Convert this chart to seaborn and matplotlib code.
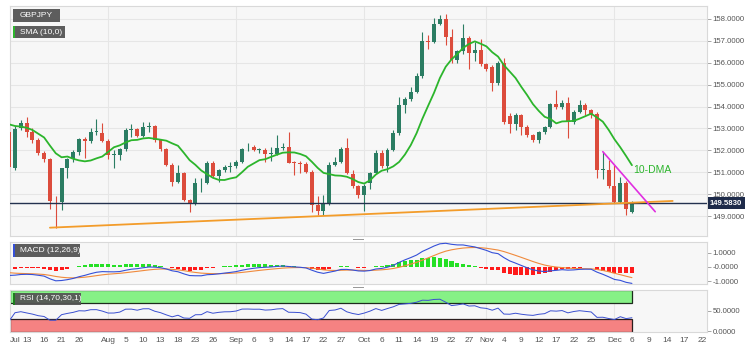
import numpy as np
import pandas as pd
import matplotlib
matplotlib.use("Agg")
import matplotlib.pyplot as plt
from matplotlib.patches import Rectangle
import seaborn as sns

# GBPJPY daily candles, 2021-07-08 .. 2021-12-06
first_day = "2021-07-08"
opens = [152.85, 151.18, 153.01, 153.27, 152.86, 152.47, 151.9, 151.59, 149.7, 149.66,
         151.18, 151.6, 151.94, 152.5, 152.43, 152.86, 152.81, 152.44, 151.79, 151.8,
         152.05, 152.93, 152.96, 152.66, 153.08, 153.11, 152.47, 152.05, 151.33, 150.57,
         150.95, 149.74, 149.58, 150.5, 150.52, 151.41, 150.83, 151.1, 151.26, 151.28,
         151.48, 152.05, 152.17, 152.02, 152.03, 151.84, 151.84, 152.09, 152.17, 151.44,
         151.42, 151.36, 151.03, 149.5, 149.25, 149.55, 151.33, 151.48, 152.1, 150.92,
         150.37, 149.96, 150.53, 150.98, 151.9, 151.29, 152.02, 152.8, 154.06, 154.36,
         154.67, 155.4, 157.0, 156.95, 157.76, 157.98, 157.19, 156.13, 156.54, 157.15,
         156.46, 156.6, 155.93, 155.82, 155.09, 156.0, 153.55, 153.2, 153.6, 153.08,
         152.7, 152.47, 152.85, 153.05, 154.1, 153.97, 154.18, 153.3, 153.77, 154.07,
         153.84, 153.66, 151.1, 151.12, 150.37, 149.66, 150.53, 149.2]
highs = [153.0, 153.1, 153.39, 153.54, 153.0, 152.55, 151.95, 151.65, 149.92, 151.2,
         151.65, 152.0, 152.55, 152.6, 153.0, 153.42, 153.24, 152.5, 152.0, 152.1,
         153.0, 153.2, 153.0, 153.31, 153.3, 153.15, 152.5, 152.1, 151.4, 151.33,
         151.03, 149.8, 150.73, 150.73, 151.5, 151.53, 151.15, 151.35, 151.48, 151.55,
         152.1, 152.32, 152.25, 152.1, 152.1, 152.15, 152.7, 152.32, 152.85, 151.5,
         151.5, 151.45, 151.1, 149.9, 149.96, 151.48, 151.71, 152.17, 152.55, 151.1,
         150.4, 150.45, 151.0, 152.02, 152.02, 152.1, 152.93, 154.45, 154.45, 154.9,
         155.55, 157.41, 157.26, 158.06, 158.17, 158.23, 157.53, 156.6, 157.76, 157.2,
         156.95, 157.07, 156.0, 155.9, 156.1, 156.2, 153.7, 153.7, 153.65, 153.15,
         152.75, 152.9, 153.1, 154.15, 154.76, 154.3, 154.45, 153.85, 154.3, 154.15,
         153.9, 153.75, 151.94, 151.56, 151.33, 150.8, 150.6, 149.7]
lows = [150.74, 151.1, 152.93, 152.63, 152.35, 151.79, 151.48, 149.31, 148.47, 149.28,
        150.73, 151.48, 151.8, 151.64, 152.35, 152.7, 152.4, 151.59, 151.18, 151.56,
        151.95, 152.63, 152.6, 152.6, 152.85, 152.4, 151.95, 151.3, 150.37, 150.5,
        149.7, 149.2, 149.5, 150.11, 150.45, 150.8, 150.57, 151.0, 151.03, 151.2,
        151.4, 151.95, 151.95, 151.9, 151.48, 151.5, 151.8, 152.0, 151.4, 150.88,
        150.95, 150.95, 149.2, 149.05, 149.05, 149.5, 151.3, 151.4, 150.9, 150.3,
        149.81, 149.25, 150.25, 150.9, 151.2, 151.0, 151.95, 152.7, 153.72, 154.25,
        154.6, 155.3, 156.64, 156.9, 157.7, 156.8, 156.0, 155.99, 156.4, 155.73,
        156.1, 155.85, 155.6, 154.71, 155.0, 153.2, 152.78, 152.95, 152.7, 152.6,
        152.38, 152.35, 152.75, 153.0, 153.9, 153.9, 152.56, 153.2, 153.7, 153.6,
        153.48, 150.73, 150.7, 150.3, 149.6, 149.6, 149.05, 149.15]
closes = [151.26, 152.96, 153.24, 152.86, 152.47, 151.9, 151.59, 149.7, 149.68, 151.18,
          151.59, 151.94, 152.5, 152.43, 152.86, 152.88, 152.44, 151.79, 151.8, 152.05,
          152.93, 152.95, 152.66, 153.08, 153.1, 152.47, 152.05, 151.33, 150.57, 150.95,
          149.74, 149.58, 150.5, 150.52, 151.41, 150.83, 151.1, 151.26, 151.28, 151.48,
          152.05, 152.07, 152.02, 152.03, 151.84, 151.9, 152.09, 152.17, 151.44, 151.42,
          151.36, 151.03, 149.51, 149.25, 149.55, 151.33, 151.48, 152.05, 150.98, 150.37,
          149.96, 150.37, 150.98, 151.9, 151.29, 152.02, 152.78, 154.06, 154.36, 154.67,
          155.4, 157.0, 156.95, 157.76, 157.98, 157.19, 156.13, 156.54, 157.15, 156.46,
          156.6, 155.93, 155.73, 155.09, 155.98, 153.3, 153.2, 153.6, 153.08, 152.7,
          152.47, 152.85, 153.05, 154.1, 153.97, 154.18, 153.3, 153.77, 154.07, 153.84,
          153.62, 151.1, 151.14, 150.37, 149.66, 150.53, 149.31, 149.583]
# June closes before the window, only used to warm up SMA / MACD / RSI
warmup_closes = [155.0, 155.2, 154.8, 155.1, 155.0, 155.2, 154.9, 154.8, 154.5, 154.9,
                 155.3, 155.1, 154.4, 153.8, 154.0, 154.4, 154.6, 154.4, 153.7, 153.5,
                 153.4, 153.5, 153.6, 153.3, 153.4, 153.2, 153.0]

last_price = 149.583
price_ticks = [149, 150, 151, 152, 153, 154, 155, 156, 157, 158]

# analyst lines: (date, price) pairs
support_dates = ["2021-07-19", "2021-12-15"]
support_prices = [148.47, 149.69]
resist_dates = ["2021-11-29", "2021-12-10"]
resist_prices = [151.94, 149.2]

tick_dates = ["2021-07-09", "2021-07-13", "2021-07-16", "2021-07-21", "2021-07-26",
              "2021-08-02", "2021-08-05", "2021-08-10", "2021-08-13", "2021-08-18",
              "2021-08-23", "2021-08-26", "2021-09-01", "2021-09-06", "2021-09-09",
              "2021-09-14", "2021-09-17", "2021-09-22", "2021-09-27", "2021-10-01",
              "2021-10-06", "2021-10-11", "2021-10-14", "2021-10-19", "2021-10-22",
              "2021-10-27", "2021-11-01", "2021-11-04", "2021-11-09", "2021-11-12",
              "2021-11-17", "2021-11-22", "2021-11-25", "2021-12-01", "2021-12-06",
              "2021-12-09", "2021-12-14", "2021-12-17", "2021-12-22"]
tick_labels = ["Jul", "13", "16", "21", "26", "Aug", "5", "10", "13", "18", "23", "26",
               "Sep", "6", "9", "14", "17", "22", "27", "Oct", "6", "11", "14", "19",
               "22", "27", "Nov", "4", "9", "12", "17", "22", "25", "Dec", "6", "9",
               "14", "17", "22"]
month_starts = ["2021-08-02", "2021-09-01", "2021-10-01", "2021-11-01", "2021-12-01"]

GREEN = "#2b7d63"
RED = "#dc4c3c"
SMA_COL = "#2cb52c"
BG = "#f7f7f7"
GRID = "#e6e6e6"
TXT = "#555555"

sns.set_theme(style="white")
plt.rcParams["font.family"] = ["Liberation Sans", "DejaVu Sans"]

n = len(closes)
days = pd.bdate_range(first_day, periods=n + 30)
pos = {d.strftime("%Y-%m-%d"): i for i, d in enumerate(days)}
x = np.arange(n)

df = pd.DataFrame({"x": x, "open": opens, "high": highs, "low": lows, "close": closes})

full = pd.Series(warmup_closes + closes)
k = len(warmup_closes)
sma = full.rolling(10).mean().iloc[k:].values
ema12 = full.ewm(span=12, adjust=False).mean()
ema26 = full.ewm(span=26, adjust=False).mean()
macd = ema12 - ema26
signal = macd.ewm(span=9, adjust=False).mean()
hist = (macd - signal).iloc[k:].values
macd = macd.iloc[k:].values
signal = signal.iloc[k:].values
delta = full.diff()
gain = delta.clip(lower=0).ewm(alpha=1 / 14, adjust=False).mean()
loss = (-delta.clip(upper=0)).ewm(alpha=1 / 14, adjust=False).mean()
rsi = (100 - 100 / (1 + gain / loss)).iloc[k:].values

W, H = 747, 358
fig = plt.figure(figsize=(W / 100, H / 100), dpi=100)
fig.patch.set_facecolor("white")


def px_axes(x0, y0, x1, y1):
    return fig.add_axes([x0 / W, 1 - y1 / H, (x1 - x0) / W, (y1 - y0) / H])


ax = px_axes(10, 6, 707, 236)
ax_m = px_axes(10, 241.5, 707, 284)
ax_r = px_axes(10, 289.5, 707, 331.7)

xlim = (0.14, 119.9)
for a in (ax, ax_m, ax_r):
    a.set_facecolor(BG)
    a.set_xlim(*xlim)
    for s in a.spines.values():
        s.set_color("#d9d9d9")
        s.set_linewidth(0.8)
    a.yaxis.tick_right()
    a.tick_params(axis="y", length=2.8, width=0.6, color="#999999", labelsize=5.6,
                  labelcolor=TXT, pad=1, right=True, left=False)
    a.tick_params(axis="x", length=0, labelsize=6, labelcolor=TXT, pad=4)
    for d in month_starts:
        a.axvline(pos[d], color=GRID, lw=0.8, zorder=0)

# main price panel
ax.set_ylim(148.09, 158.59)
ax.set_yticks(price_ticks)
ax.set_yticklabels([f"{p:.4f}" for p in price_ticks])
for p in price_ticks:
    ax.axhline(p, color=GRID, lw=0.8, zorder=0)
ax.set_xticks([])

up = df["close"] >= df["open"]
cols = np.where(up, GREEN, RED)
ax.vlines(df["x"], df["low"], df["high"], color=cols, lw=0.8, zorder=2)
body = (df["close"] - df["open"]).abs().clip(lower=0.03)
ax.bar(df["x"], body, bottom=np.minimum(df["open"], df["close"]), width=0.68,
       color=cols, lw=0, zorder=3)

sns.lineplot(x=x, y=sma, ax=ax, color=SMA_COL, lw=1.3, zorder=4)
ax.axhline(last_price, color="#24324f", lw=1.0, zorder=4)
ax.plot([pos[d] for d in support_dates], support_prices, color="#f39c2a", lw=1.3, zorder=5)
ax.plot([pos[d] for d in resist_dates], resist_prices, color="#e02fe0", lw=1.2, zorder=5)
ax.text(pos["2021-12-06"] + 0.2, 151.1, "10-DMA", color=SMA_COL, fontsize=7.5,
        va="center", ha="left")
ax.annotate(f"{last_price:.4f}", xy=(1.0, last_price), xycoords=("axes fraction", "data"),
            xytext=(2.2, 0), textcoords="offset points", va="center", ha="left",
            fontsize=5.6, color="white", fontweight="bold",
            bbox=dict(boxstyle="square,pad=0.3", fc="#1e2b4a", ec="none"))

# MACD panel
ax_m.set_ylim(-1.2, 1.78)
ax_m.set_yticks([-1, 0, 1])
ax_m.set_yticklabels(["-1.0000", "-0.0000", "1.0000"])
ax_m.set_xticks([])
ax_m.bar(x, hist, width=0.7, color=np.where(hist >= 0, "#25e025", "#ff1a1a"), lw=0, zorder=2)
sns.lineplot(x=x, y=signal, ax=ax_m, color="#f08a3c", lw=0.8, zorder=3)
sns.lineplot(x=x, y=macd, ax=ax_m, color="#3550d8", lw=0.8, zorder=4)

# RSI panel
ax_r.set_ylim(-1, 102.5)
ax_r.set_yticks([0, 50])
ax_r.set_yticklabels(["0.0000", "50.0000"])
ax_r.add_patch(Rectangle((xlim[0], 70), n - 1 - xlim[0], 32.5, fc="#86f186",
                         ec="#1d2b1d", lw=0.9, zorder=1))
ax_r.add_patch(Rectangle((xlim[0], -1), n - 1 - xlim[0], 31, fc="#f58282",
                         ec="#2b1d1d", lw=0.9, zorder=1))
sns.lineplot(x=x, y=rsi, ax=ax_r, color="#3a4fd0", lw=0.7, zorder=3)
ax_r.set_xticks([pos[d] for d in tick_dates])
ax_r.set_xticklabels(tick_labels)

for a in (ax, ax_m, ax_r):
    a.set_xlabel("")
    a.set_ylabel("")


# legend boxes drawn in pixel coords
def label_box(x0, y0, x1, y1, text, stripe=None):
    fig.add_artist(Rectangle((x0 / W, 1 - y1 / H), (x1 - x0) / W, (y1 - y0) / H,
                             transform=fig.transFigure, fc="#555555", ec="none", alpha=0.95))
    if stripe:
        fig.add_artist(Rectangle((x0 / W, 1 - y1 / H), 2.5 / W, (y1 - y0) / H,
                                 transform=fig.transFigure, fc=stripe, ec="none"))
    fig.text((x0 + 7) / W, 1 - (y0 + y1) / 2 / H, text, color="white", fontsize=6,
             va="center", ha="left")


label_box(12.7, 9.3, 60, 21.7, "GBPJPY")
label_box(12.7, 26, 65, 38.3, "SMA (10,0)", stripe=SMA_COL)
label_box(12.7, 244.3, 80, 256.7, "MACD (12,26,9)", stripe="#3550d8")
label_box(12.7, 292.7, 80.7, 305, "RSI (14,70,30,1)", stripe="#1f7a1f")

# panel resize handles
for yy in (238.5, 286.5):
    fig.add_artist(Rectangle((353 / W, 1 - (yy + 1.5) / H), 11 / W, 1.5 / H,
                             transform=fig.transFigure, fc="#9a9a9a", ec="none"))

fig.savefig("out.png", dpi=100)
